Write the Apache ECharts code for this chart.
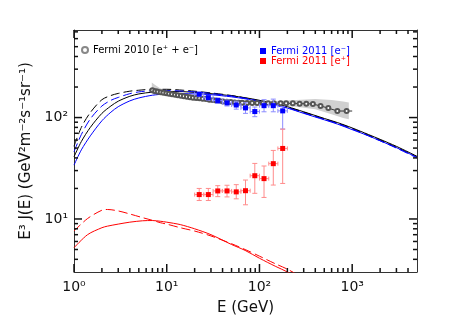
<!DOCTYPE html>
<html>
<head>
<meta charset="utf-8">
<title>Fermi e+ e- spectrum</title>
<script src="https://cdn.jsdelivr.net/npm/echarts@6.0.0/dist/echarts.min.js"></script>
<style>
    html, body { margin: 0; padding: 0; background: #fff; }
    #chart { width: 463px; height: 331px; }
</style>
</head>
<body>
<div id="chart"></div>
<script>
// ---- values (E in GeV, E^3 J(E) in GeV^2 m^-2 s^-1 sr^-1) ----

// model curves, e+ + e- (black) and e- (blue)
var modelE      = [1, 1.2, 1.5, 2, 2.5, 3, 4, 5, 7, 10, 15, 20, 30, 50, 70, 100, 150, 200, 300, 500, 700, 1000, 1500, 2000, 3000, 5000];
var blackSolid  = [41, 58, 80, 110, 130, 145, 162, 171, 178, 181, 180, 177, 172, 164, 157, 148, 136, 128, 114, 98, 89, 79, 68, 61, 52, 41.5];
var blackDashed = [52, 80, 112, 150, 165, 173, 182, 186, 190, 190, 186, 182, 175, 165, 156, 146, 134, 126, 113, 97, 88, 78, 67, 60, 51, 41];
var blueSolid   = [34, 48, 66, 93, 113, 128, 146, 156, 166, 171, 172, 171, 168, 160, 153, 144, 132, 124, 110, 95, 86, 76, 66, 59, 50.5, 40.5];
var blueDashed  = [46, 68, 97, 130, 148, 158, 172, 179, 184, 185, 182, 179, 173, 163, 155, 145, 133, 125, 111, 96, 87, 77, 66, 59, 50, 40];

// model curves, e+ (red)
var posE      = [1, 1.4, 2, 2.3, 3, 4, 5.5, 7, 8.5, 10, 14, 20, 30, 50, 70, 100, 150, 200, 300];
var redSolid  = [5.2, 7.0, 8.2, 8.5, 8.9, 9.3, 9.6, 9.65, 9.5, 9.3, 8.8, 8.0, 7.0, 5.6, 4.9, 4.1, 3.4, 3.0, 2.4];
var redDashed = [7.6, 10.1, 12.2, 12.4, 12.0, 11.2, 10.3, 9.7, 9.2, 8.9, 8.2, 7.6, 6.8, 5.7, 5.0, 4.3, 3.6, 3.2, 2.6];

// Fermi 2010 e+ + e- points
var fermi10E = [7.0, 7.5, 8.0, 8.6, 9.2, 9.9, 10.6, 11.4, 12.3, 13.2, 14.2, 15.3, 16.5, 17.8, 19.2, 20.8, 22.5, 24.4, 26.5, 28.8,
                31.3, 34.0, 37.0, 40.5, 44.5, 49.0, 54.0, 59.5, 65, 73.6, 83.4, 94.4, 108.6, 124, 143, 169, 194, 229, 271, 320,
                377, 456, 553, 692, 871];
var fermi10J = [186, 182, 180, 178, 176, 174, 172, 170, 168, 166, 164, 162, 160, 159, 157, 156, 155, 153, 152, 150,
                149, 147, 146, 144, 143, 142, 141, 140, 140, 139, 139, 139, 138, 138, 138, 138, 138, 138, 137, 137,
                136, 130, 124, 116, 116];
var fermi10LastBinHi = 1000;

// systematic band of the Fermi 2010 points
var bandE  = [6.9, 7.5, 8.5, 10, 13, 20, 40, 80, 150, 250, 400, 600, 800, 920];
var bandLo = [170, 171, 170, 166, 161, 151, 139, 133, 131, 128, 121, 108, 99, 96];
var bandHi = [222, 210, 195, 184, 174, 163, 151, 147, 146, 149, 152, 149, 144, 141];

// Fermi 2011 separated spectra: bin edges, e- and e+ with errors
var binLo = [20, 25.1, 31.6, 39.8, 50.1, 63.1, 79.4, 100, 126, 158];
var binHi = [25.1, 31.6, 39.8, 50.1, 63.1, 79.4, 100, 126, 158, 200];
var binE  = [22.4, 28.1, 35.5, 44.7, 56.2, 70.7, 89.1, 112, 141, 178];
var eleJ   = [170, 157, 147, 139.5, 133, 124.5, 114.6, 131, 131, 116.4];
var eleLo  = [162, 149, 138, 130, 121, 110, 102, 114, 114, 77];
var eleHi  = [178, 165, 156, 149, 145, 140, 127, 150, 152, 128];
var posJ   = [17.4, 17.4, 18.9, 18.9, 18.5, 19.0, 26.7, 25.0, 35.1, 49.6];
var posLo  = [15.2, 15.2, 16.6, 16.5, 15.8, 13.8, 17.9, 16.3, 21.6, 22.4];
var posHi  = [20.0, 20.0, 21.3, 21.5, 21.8, 24.2, 35.3, 33.3, 47.4, 76.9];

// axis ranges and ticks
var xRange = [1, 5000];
var yRange = [3, 730];
var xMajor = [1, 10, 100, 1000];
var xMinor = [2, 3, 4, 5, 6, 7, 8, 9, 20, 30, 40, 50, 60, 70, 80, 90, 200, 300, 400, 500, 600, 700, 800, 900, 2000, 3000, 4000];
var yMajor = [10, 100];
var yMinor = [4, 5, 6, 7, 8, 9, 20, 30, 40, 50, 60, 70, 80, 90, 200, 300, 400, 500, 600, 700];

var SUP = {'0': '\u2070', '1': '\u00b9', '2': '\u00b2', '3': '\u00b3'};
var FONT = 'DejaVu Sans';
var AXIS_COLOR = '#333';
var TICK_COLOR = '#111';

function pairs(xs, ys) {
    return xs.map(function (x, i) { return [x, ys[i]]; });
}

function powLabel(v) {
    return '10' + SUP[String(Math.round(Math.log10(v)))];
}

function axisDef(range, pos, opts) {
    return Object.assign({
        type: 'log',
        min: range[0], max: range[1],
        position: pos,
        splitLine: { show: false },
        axisLine: { show: true, lineStyle: { color: AXIS_COLOR, width: 1 } },
        axisTick: { show: false },
        axisLabel: { show: false }
    }, opts || {});
}

function errorBars(barColor, dotColor) {
    return function (params, api) {
        var p = api.coord([api.value(0), api.value(1)]);
        var lo = api.coord([api.value(0), api.value(2)]);
        var hi = api.coord([api.value(0), api.value(3)]);
        var l = api.coord([api.value(4), api.value(1)]);
        var r = api.coord([api.value(5), api.value(1)]);
        var st = { stroke: barColor, lineWidth: 1 };
        return {
            type: 'group',
            children: [
                { type: 'line', shape: { x1: p[0], y1: hi[1], x2: p[0], y2: lo[1] }, style: st },
                { type: 'line', shape: { x1: p[0] - 2.5, y1: hi[1], x2: p[0] + 2.5, y2: hi[1] }, style: st },
                { type: 'line', shape: { x1: p[0] - 2.5, y1: lo[1], x2: p[0] + 2.5, y2: lo[1] }, style: st },
                { type: 'line', shape: { x1: l[0], y1: p[1], x2: r[0], y2: p[1] }, style: st },
                { type: 'line', shape: { x1: l[0], y1: p[1] - 2, x2: l[0], y2: p[1] + 2 }, style: st },
                { type: 'line', shape: { x1: r[0], y1: p[1] - 2, x2: r[0], y2: p[1] + 2 }, style: st },
                { type: 'rect', shape: { x: p[0] - 2.5, y: p[1] - 2.5, width: 5, height: 5 }, style: { fill: dotColor } }
            ]
        };
    };
}

function curve(name, xs, ys, color, dashed) {
    return {
        name: name, type: 'line', data: pairs(xs, ys), showSymbol: false, smooth: 0.3,
        lineStyle: { color: color, width: 1, type: dashed ? [9, 4] : 'solid' },
        silent: true, z: 3
    };
}

// tick marks on all four sides, pointing inwards, placed with the chart's own axis conversion
function tickGraphics(chart) {
    var els = [];
    var fp = { xAxisIndex: 0, yAxisIndex: 0 };
    function push(x1, y1, x2, y2) {
        els.push({ type: 'line', silent: true, z: 100,
                   shape: { x1: x1, y1: y1, x2: x2, y2: y2 },
                   style: { stroke: TICK_COLOR, lineWidth: 1.5 } });
    }
    function xt(v, len) {
        var b = chart.convertToPixel(fp, [v, yRange[0]]);
        var t = chart.convertToPixel(fp, [v, yRange[1]]);
        push(b[0], b[1], b[0], b[1] - len);
        push(t[0], t[1], t[0], t[1] + len);
    }
    function yt(v, len) {
        var l = chart.convertToPixel(fp, [xRange[0], v]);
        var r = chart.convertToPixel(fp, [xRange[1], v]);
        push(l[0], l[1], l[0] + len, l[1]);
        push(r[0], r[1], r[0] - len, r[1]);
    }
    xMajor.forEach(function (v) { xt(v, 8); });
    xMinor.forEach(function (v) { xt(v, 4); });
    yMajor.forEach(function (v) { yt(v, 8); });
    yMinor.forEach(function (v) { yt(v, 4); });
    return els;
}

var chart = echarts.init(document.getElementById('chart'), null, { renderer: 'canvas' });

var option = {
    animation: false,
    textStyle: { fontFamily: FONT },
    grid: { left: 74, right: 46, top: 30, bottom: 59 },
    legend: [
        {
            left: 76, top: 40, selectedMode: false, itemWidth: 6, itemHeight: 6,
            textStyle: { fontSize: 10, color: '#000', fontFamily: FONT },
            data: [{ name: 'Fermi 2010 [e\u207a + e\u207b]', icon: 'emptyCircle', itemStyle: { color: '#888' } }]
        },
        {
            left: 255, top: 41, orient: 'vertical', itemGap: 0, selectedMode: false,
            itemWidth: 6, itemHeight: 6,
            textStyle: { fontSize: 10, fontFamily: FONT },
            data: [
                { name: 'Fermi 2011 [e\u207b]', icon: 'rect', textStyle: { color: '#0000ff' } },
                { name: 'Fermi 2011 [e\u207a]', icon: 'rect', textStyle: { color: '#ff0000' } }
            ]
        }
    ],
    xAxis: [
        axisDef(xRange, 'bottom', {
            name: 'E (GeV)', nameLocation: 'middle', nameGap: 29,
            nameTextStyle: { fontSize: 15, color: '#111', fontFamily: FONT },
            axisLabel: { show: true, customValues: xMajor, formatter: powLabel, margin: 8,
                         fontSize: 14, color: '#111', fontFamily: FONT }
        }),
        axisDef(xRange, 'top')
    ],
    yAxis: [
        axisDef(yRange, 'left', {
            name: 'E\u00b3 J(E) (GeV\u00b2m\u207b\u00b2s\u207b\u00b9sr\u207b\u00b9)', nameLocation: 'middle', nameGap: 38,
            nameTextStyle: { fontSize: 15, color: '#111', fontFamily: FONT },
            axisLabel: { show: true, customValues: yMajor, formatter: powLabel, margin: 6,
                         fontSize: 14, color: '#111', fontFamily: FONT }
        }),
        axisDef(yRange, 'right')
    ],
    series: [
        {
            name: 'band', type: 'custom', silent: true, z: 1,
            data: pairs(bandE, bandHi),
            encode: { x: 0, y: 1 },
            renderItem: function (params, api) {
                if (params.dataIndex !== 0) return null;
                var pts = [];
                bandE.forEach(function (e, i) { pts.push(api.coord([e, bandHi[i]])); });
                for (var i = bandE.length - 1; i >= 0; i--) pts.push(api.coord([bandE[i], bandLo[i]]));
                return { type: 'polygon', shape: { points: pts }, style: { fill: '#d0d0d0' } };
            }
        },
        curve('black dashed', modelE, blackDashed, '#000', true),
        curve('black solid', modelE, blackSolid, '#000', false),
        curve('blue dashed', modelE, blueDashed, '#0000ff', true),
        curve('blue solid', modelE, blueSolid, '#0000ff', false),
        curve('red dashed', posE, redDashed, '#ff0000', true),
        curve('red solid', posE, redSolid, '#ff0000', false),
        {
            name: 'Fermi 2010 bin', type: 'line', showSymbol: false, silent: true, z: 5,
            data: [[fermi10E[fermi10E.length - 1], fermi10J[fermi10J.length - 1]],
                   [fermi10LastBinHi, fermi10J[fermi10J.length - 1]]],
            lineStyle: { color: '#333', width: 1 }
        },
        {
            name: 'Fermi 2010 [e\u207a + e\u207b]', type: 'line', data: pairs(fermi10E, fermi10J),
            symbol: 'emptyCircle', symbolSize: 4,
            itemStyle: { color: '#555', borderWidth: 1 },
            lineStyle: { color: '#333', width: 1 }, z: 5
        },
        {
            name: 'Fermi 2011 [e\u207b]', type: 'custom',
            itemStyle: { color: '#0000ff' },
            renderItem: errorBars('#8c8cff', '#0000ff'),
            data: binE.map(function (e, i) { return [e, eleJ[i], eleLo[i], eleHi[i], binLo[i], binHi[i]]; }),
            encode: { x: 0, y: 1 }, z: 6
        },
        {
            name: 'Fermi 2011 [e\u207a]', type: 'custom',
            itemStyle: { color: '#ff0000' },
            renderItem: errorBars('#ff8c8c', '#ff0000'),
            data: binE.map(function (e, i) { return [e, posJ[i], posLo[i], posHi[i], binLo[i], binHi[i]]; }),
            encode: { x: 0, y: 1 }, z: 6
        }
    ]
};

chart.setOption(option);
chart.setOption({ graphic: { elements: tickGraphics(chart) } });
</script>
</body>
</html>
